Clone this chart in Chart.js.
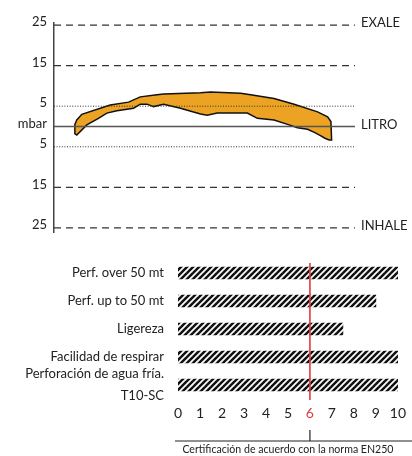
<!DOCTYPE html>
<html><head><meta charset="utf-8">
<script src="https://cdn.jsdelivr.net/npm/chart.js@4.4.1/dist/chart.umd.min.js"></script>
<style>
html,body{margin:0;padding:0;background:#fff;}
#wrap{position:relative;width:412px;height:456px;overflow:hidden;}
#top{position:absolute;left:0;top:0;width:412px;height:240px;}
#bot{position:absolute;left:0;top:250px;width:412px;height:206px;}
</style></head><body>
<div id="wrap">
  <div id="top"><canvas id="c1"></canvas></div>
  <div id="bot"><canvas id="c2"></canvas></div>
</div>
<script>
// ---------- DATA ----------
// Pressure chart (mbar)
const pressureLevels = [25, 15, 5, 0, -5, -15, -25];
const pressureLabels = ['25', '15', '5', 'mbar', '5', '15', '25'];
const phaseLevels = [25, 0, -25];
const phaseLabels = ['EXALE', 'LITRO', 'INHALE'];
// breathing-cycle band outline (volume, pressure)
const upperVolume   = [20.3, 20.8, 22.7, 27.7, 56, 74.3, 86, 102.7, 109.3, 146, 156, 186, 196, 219.3, 239.3, 262.7, 272.7, 276, 276.7];
const upperPressure = [-1.7, 0.5, 1.6, 3.0, 5.3, 6.0, 7.3, 7.8, 8.0, 8.3, 8.5, 8.2, 7.8, 6.9, 5.5, 3.6, 2.4, 1.2, -3.3];
const lowerVolume   = [22.7, 32.7, 44.3, 52.7, 62.7, 79.3, 86, 92.7, 99.3, 109.3, 126, 146, 152.7, 162.7, 192.7, 202.7, 219.3, 234.3, 242.7, 252.7, 260, 266, 270, 274.3];
const lowerPressure = [-2.1, 0.4, 2.0, 3.3, 3.9, 4.5, 5.5, 5.5, 4.9, 5.5, 4.5, 3.1, 2.8, 3.3, 3.3, 2.0, 1.6, 0.4, -0.3, -0.7, -1.5, -2.3, -2.9, -3.3];

// Rating chart
const categories = ['Perf. over 50 mt', 'Perf. up to 50 mt', 'Ligereza', 'Facilidad de respirar', ['Perforación de agua fría.', 'T10-SC']];
const scores = [10, 9, 7.5, 10, 10];
const scoreTicks = [0, 1, 2, 3, 4, 5, 6, 7, 8, 9, 10];
const certifiedScore = 6;
const caption = 'Certificación de acuerdo con la norma EN250';

// ---------- STYLE ----------
const FONT = 'Lato, "Noto Sans", sans-serif';
Chart.defaults.font.family = FONT;
Chart.defaults.color = '#222';
const RED = '#e0393e';
const ORANGE = '#eca223';

function levelStyle(v) {
  if (v === 0) return {color: '#555', width: 1.5, dash: []};
  if (Math.abs(v) === 5) return {color: '#333', width: 1, dash: [1, 1.6]};
  return {color: '#333', width: 1.2, dash: [7, 5]};
}

const levelDatasets = pressureLevels.map(v => {
  const s = levelStyle(v);
  return {
    type: 'line',
    data: [{x: 0, y: v}, {x: 300, y: v}],
    borderColor: s.color, borderWidth: s.width, borderDash: s.dash,
    pointRadius: 0, fill: false, order: 1
  };
});

const bandPoints = upperVolume.map((x, i) => ({x, y: upperPressure[i]}))
  .concat(lowerVolume.map((x, i) => ({x, y: lowerPressure[i]})).reverse());
bandPoints.push({...bandPoints[0]});

const noPad = s => { s.paddingTop = 0; s.paddingBottom = 0; };

new Chart(document.getElementById('c1'), {
  type: 'line',
  data: {
    datasets: [{
      data: bandPoints,
      borderColor: '#111', borderWidth: 1.5,
      backgroundColor: ORANGE,
      fill: 'shape', pointRadius: 0, tension: 0, order: 2
    }, ...levelDatasets]
  },
  options: {
    responsive: true, maintainAspectRatio: false, animation: false,
    layout: {padding: {top: 23, bottom: 8, left: 0, right: 0}},
    plugins: {legend: {display: false}, tooltip: {enabled: false}},
    scales: {
      x: {type: 'linear', min: 0, max: 300, display: false},
      y: {
        position: 'left', min: -26, max: 25.5,
        afterBuildTicks: s => { s.ticks = pressureLevels.map(v => ({value: v})); },
        afterFit: s => { s.width = 54; noPad(s); },
        grid: {display: false, drawTicks: false},
        border: {display: true, color: '#444', width: 1.5},
        ticks: {
          padding: 7, labelOffset: -3, color: '#222', font: {size: 13},
          callback: (v) => pressureLabels[pressureLevels.indexOf(v)]
        }
      },
      y2: {
        position: 'right', min: -26, max: 25.5,
        afterBuildTicks: s => { s.ticks = phaseLevels.map(v => ({value: v})); },
        afterFit: s => { s.width = 57; noPad(s); },
        grid: {display: false, drawTicks: false},
        border: {display: false},
        ticks: {
          padding: 6, labelOffset: -2, color: '#222', font: {size: 13},
          callback: (v) => phaseLabels[phaseLevels.indexOf(v)]
        }
      }
    }
  }
});

// ---------- RATING CHART ----------
function makeHatch() {
  const c = document.createElement('canvas');
  c.width = 6; c.height = 6;
  const g = c.getContext('2d');
  g.strokeStyle = '#111';
  g.lineWidth = 2.5;
  [-6, 0, 6].forEach(ox => {
    g.beginPath();
    g.moveTo(ox - 1, 7);
    g.lineTo(ox + 7, -1);
    g.stroke();
  });
  return g.createPattern(c, 'repeat');
}

const markerPlugin = {
  id: 'marker',
  afterDatasetsDraw(chart) {
    const {ctx, chartArea, scales: {x}} = chart;
    const px = x.getPixelForValue(certifiedScore);
    ctx.save();
    ctx.strokeStyle = RED;
    ctx.lineWidth = 1.6;
    ctx.beginPath();
    ctx.moveTo(px, chartArea.top + 4);
    ctx.lineTo(px, chartArea.bottom + 1);
    ctx.stroke();
    const lineY = x.bottom - 15;
    ctx.strokeStyle = '#222';
    ctx.lineWidth = 1.2;
    ctx.beginPath();
    ctx.moveTo(chartArea.left - 3, lineY);
    ctx.lineTo(chart.width, lineY);
    ctx.moveTo(px, lineY - 11);
    ctx.lineTo(px, lineY);
    ctx.stroke();
    ctx.fillStyle = '#222';
    ctx.font = '10.6px ' + FONT;
    ctx.textAlign = 'center';
    ctx.textBaseline = 'middle';
    ctx.fillText(caption, (chartArea.left + chartArea.right) / 2, lineY + 9);
    ctx.restore();
  }
};

new Chart(document.getElementById('c2'), {
  type: 'bar',
  data: {
    labels: categories,
    datasets: [{data: scores, backgroundColor: makeHatch(), barThickness: 12, borderWidth: 0}]
  },
  options: {
    indexAxis: 'y',
    responsive: true, maintainAspectRatio: false, animation: false,
    layout: {padding: {top: 9, right: 10, left: 0, bottom: 0}},
    plugins: {legend: {display: false}, tooltip: {enabled: false}},
    scales: {
      x: {
        min: 0, max: 10,
        afterBuildTicks: s => { s.ticks = scoreTicks.map(v => ({value: v})); },
        afterFit: s => { s.height = 57; },
        grid: {display: false, drawTicks: false},
        border: {display: false},
        ticks: {
          padding: 6, font: {size: 14}, autoSkip: false, maxRotation: 0,
          color: c => (c.tick && c.tick.value === certifiedScore) ? RED : '#222'
        }
      },
      y: {
        afterFit: s => { s.width = 178; noPad(s); },
        grid: {display: false, drawTicks: false},
        border: {display: false},
        ticks: {padding: 14, autoSkip: false, color: '#222', font: {size: 13, lineHeight: 1.7}}
      }
    }
  },
  plugins: [markerPlugin]
});
</script>
</body></html>
